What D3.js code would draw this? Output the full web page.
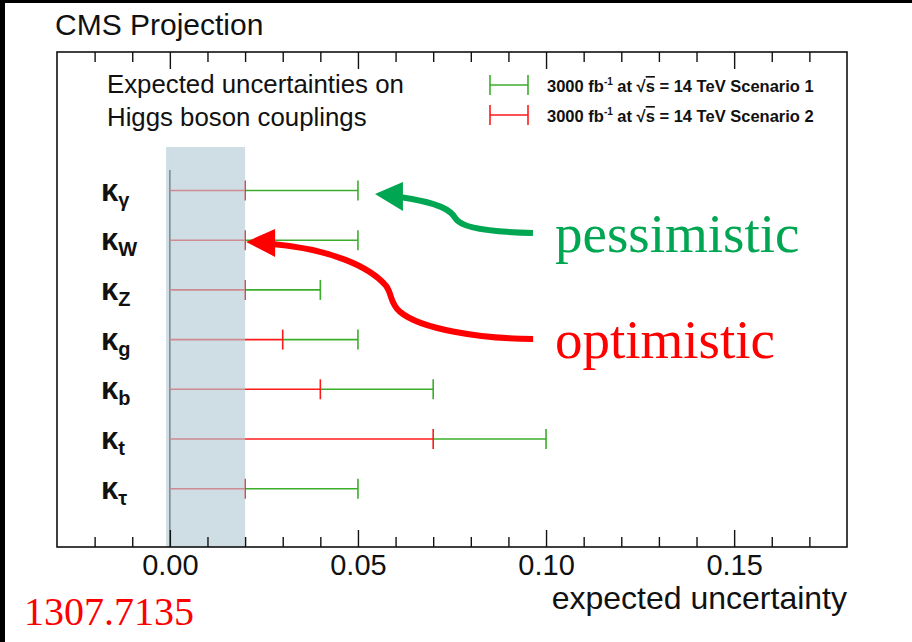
<!DOCTYPE html>
<html>
<head>
<meta charset="utf-8">
<script src="https://cdn.jsdelivr.net/npm/d3@7"></script>
<style>
  body { margin: 0; background: #fff; }
  svg { display: block; }
  text { font-family: "Liberation Sans", Arial, Helvetica, sans-serif; fill: #111; }
  text.serif { font-family: "Liberation Serif", "Times New Roman", serif; }
</style>
</head>
<body>
<svg id="plot"></svg>
<script>
// couplings, top to bottom
const kappas = ["γ", "W", "Z", "g", "b", "t", "τ"];
// 3000 fb-1, scenario 1 (pessimistic) and scenario 2 (optimistic)
const scenario1 = [0.05, 0.05, 0.04, 0.05, 0.07, 0.10, 0.05];
const scenario2 = [0.02, 0.02, 0.02, 0.03, 0.04, 0.07, 0.02];
const xTicks = [0.00, 0.05, 0.10, 0.15];
const bandRange = [-0.001, 0.02];
const legendLabels = ["Scenario 1", "Scenario 2"];

const width = 912;
const height = 642;
const frame = { left: 57, right: 847, top: 52, bottom: 547 };
const green = "#3aae2a";
const red = "#ff1a1a";

const svg = d3.select("#plot").attr("width", width).attr("height", height);

svg.append("rect").attr("width", width).attr("height", height).attr("fill", "#fff");
// black edges of the screenshot
svg.append("rect").attr("width", 5).attr("height", height).attr("fill", "#000");
svg.append("rect").attr("width", width).attr("height", 3).attr("fill", "#000");

// Scales
const x = d3.scaleLinear().domain([-0.03, 0.18]).range([frame.left, frame.right]);
const y = d3.scalePoint().domain(kappas).range([190.5, 488.7]);

// zero line
svg.append("line")
    .attr("x1", x(0)).attr("x2", x(0))
    .attr("y1", 170).attr("y2", frame.bottom)
    .attr("stroke", "#222").attr("stroke-width", 1.6);

// error bars: green from the red end to scenario 1, red from zero to scenario 2
const rows = kappas.map((k, i) => ({ k, s1: scenario1[i], s2: scenario2[i] }));

const bars = svg.append("g");
bars.selectAll(".g1")
    .data(rows).enter().append("line")
    .attr("x1", (d) => x(d.s2)).attr("x2", (d) => x(d.s1))
    .attr("y1", (d) => y(d.k)).attr("y2", (d) => y(d.k))
    .attr("stroke", green).attr("stroke-width", 1.6);
bars.selectAll(".g1cap")
    .data(rows).enter().append("line")
    .attr("x1", (d) => x(d.s1)).attr("x2", (d) => x(d.s1))
    .attr("y1", (d) => y(d.k) - 10).attr("y2", (d) => y(d.k) + 10)
    .attr("stroke", green).attr("stroke-width", 1.6);
bars.selectAll(".r1")
    .data(rows).enter().append("line")
    .attr("x1", x(0)).attr("x2", (d) => x(d.s2))
    .attr("y1", (d) => y(d.k)).attr("y2", (d) => y(d.k))
    .attr("stroke", red).attr("stroke-width", 1.6);
bars.selectAll(".r1cap")
    .data(rows).enter().append("line")
    .attr("x1", (d) => x(d.s2)).attr("x2", (d) => x(d.s2))
    .attr("y1", (d) => y(d.k) - 10).attr("y2", (d) => y(d.k) + 10)
    .attr("stroke", red).attr("stroke-width", 1.6);

// shaded band on top
svg.append("rect")
    .attr("x", x(bandRange[0]))
    .attr("y", 147)
    .attr("width", x(bandRange[1]) - x(bandRange[0]))
    .attr("height", frame.bottom - 147)
    .attr("fill", "#b2cbd4").attr("fill-opacity", 0.64);

// frame
svg.append("rect")
    .attr("x", frame.left).attr("y", frame.top)
    .attr("width", frame.right - frame.left).attr("height", frame.bottom - frame.top)
    .attr("fill", "none").attr("stroke", "#111").attr("stroke-width", 1.6);

// axes
const minor = d3.range(-2, 18).map((d) => d / 100).filter((d) => Math.round(d * 100) % 5 !== 0);
const major = d3.range(0, 16, 5).map((d) => d / 100);

function styleAxis(g) {
    g.select(".domain").remove();
    g.selectAll(".tick line").attr("stroke", "#111").attr("stroke-width", 1.4);
}

svg.append("g").attr("transform", `translate(0,${frame.bottom})`)
    .call(d3.axisBottom(x).tickValues(minor).tickSize(-10).tickFormat(""))
    .call(styleAxis);
svg.append("g").attr("transform", `translate(0,${frame.bottom})`)
    .call(d3.axisBottom(x).tickValues(xTicks).tickSize(-17).tickPadding(7).tickFormat(d3.format(".2f")))
    .call(styleAxis)
    .call((g) => g.selectAll("text").attr("font-size", 29).style("fill", "#111")
        .style("font-family", "'Liberation Sans', Arial, sans-serif"));
svg.append("g").attr("transform", `translate(0,${frame.top})`)
    .call(d3.axisTop(x).tickValues(minor).tickSize(-10).tickFormat(""))
    .call(styleAxis);
svg.append("g").attr("transform", `translate(0,${frame.top})`)
    .call(d3.axisTop(x).tickValues(major).tickSize(-17).tickFormat(""))
    .call(styleAxis);

// axis title
svg.append("text")
    .attr("x", frame.right).attr("y", 609)
    .attr("text-anchor", "end").attr("font-size", 32)
    .text("expected uncertainty");

// coupling labels
const labels = svg.append("g").selectAll("text")
    .data(kappas).enter().append("text")
    .attr("x", 101).attr("y", (d) => y(d) + 10)
    .attr("font-weight", "bold").attr("font-size", 31);
labels.append("tspan").text("κ");
labels.append("tspan").attr("font-size", 20).attr("dy", 6).text((d) => d);

// header texts
svg.append("text").attr("x", 55).attr("y", 35).attr("font-size", 30).text("CMS Projection");
svg.append("text").attr("x", 107).attr("y", 93).attr("font-size", 25.8).text("Expected uncertainties on");
svg.append("text").attr("x", 107).attr("y", 126).attr("font-size", 25.8).text("Higgs boson couplings");

// legend
const legend = svg.append("g").selectAll("g")
    .data(legendLabels).enter().append("g")
    .attr("transform", (d, i) => `translate(490,${85 + i * 30})`);
legend.append("line").attr("x1", 0).attr("x2", 38)
    .attr("stroke", (d, i) => (i === 0 ? green : red)).attr("stroke-width", 1.6);
legend.append("line").attr("x1", 0).attr("x2", 0).attr("y1", -10).attr("y2", 10)
    .attr("stroke", (d, i) => (i === 0 ? green : red)).attr("stroke-width", 1.6);
legend.append("line").attr("x1", 38).attr("x2", 38).attr("y1", -10).attr("y2", 10)
    .attr("stroke", (d, i) => (i === 0 ? green : red)).attr("stroke-width", 1.6);
const lt = legend.append("text").attr("x", 57).attr("y", 7).attr("font-size", 16.5).attr("font-weight", "bold");
lt.append("tspan").text("3000 fb");
lt.append("tspan").attr("font-size", 10).attr("dy", -7).text("-1");
lt.append("tspan").attr("dy", 7).text(" at   √");
lt.append("tspan").attr("text-decoration", "overline").text("s");
lt.append("tspan").text((d) => " = 14 TeV " + d);

// annotation arrows, anchored to the bar ends they point at
const arrows = [
    {
        text: "pessimistic", color: "#00a651", k: "γ", v: 0.05, dx: 17, dy: 3.5,
        shaft: "M158,39 C115,38 87,34 81,25 C76,16 65,9 25,3",
        head: "M0,0 L28,-12 L28,17 Z", textX: 555, textY: 252
    },
    {
        text: "optimistic", color: "#ff0000", k: "W", v: 0.02, dx: 1, dy: 1.7,
        shaft: "M287,97 C234,97 174,87 154,70 C144,62 146,52 140,44 C124,25 84,7 26,2",
        head: "M0,0 L29,-13 L29,15 Z", textX: 555, textY: 358
    }
];

arrows.forEach((a) => {
    const g = svg.append("g")
        .attr("transform", `translate(${x(a.v) + a.dx},${y(a.k) + a.dy})`);
    g.append("path").attr("d", a.shaft).attr("fill", "none")
        .attr("stroke", a.color).attr("stroke-width", 6).attr("stroke-linecap", "butt");
    g.append("path").attr("d", a.head).attr("fill", a.color);
    svg.append("text")
        .attr("class", "serif")
        .attr("x", a.textX).attr("y", a.textY)
        .attr("font-size", 55).style("fill", a.color)
        .text(a.text);
});

// arXiv reference
svg.append("text")
    .attr("class", "serif")
    .attr("x", 24).attr("y", 625)
    .attr("font-size", 40).style("fill", "#ff0000")
    .text("1307.7135");
</script>
</body>
</html>
